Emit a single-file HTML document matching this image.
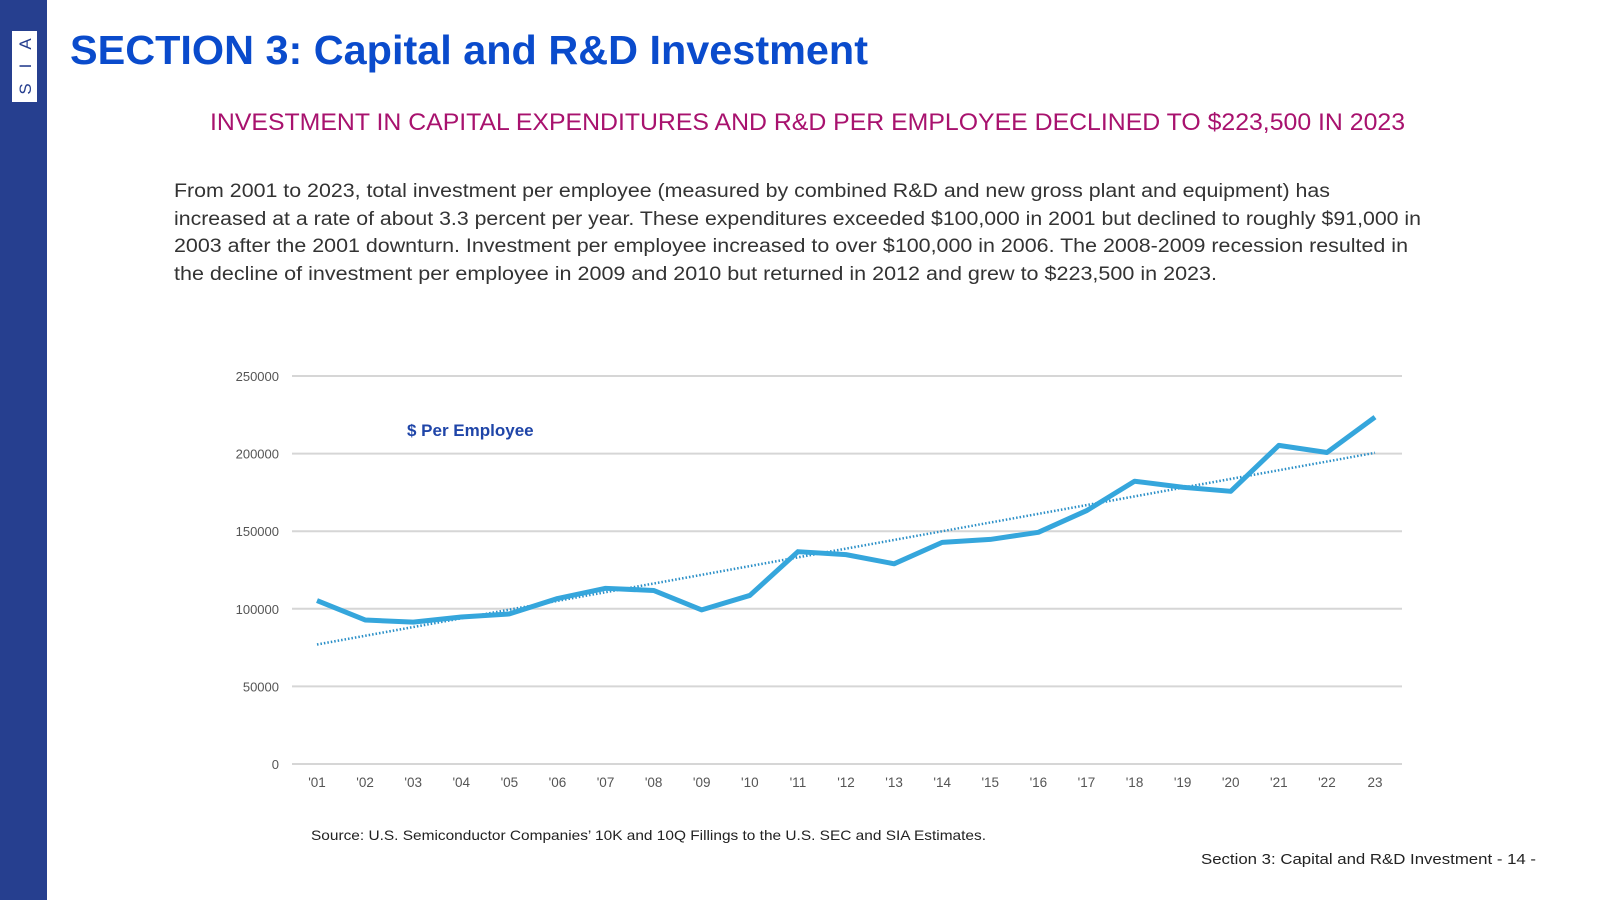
<!DOCTYPE html>
<html><head><meta charset="utf-8"><style>
body{margin:0;width:1600px;height:900px;overflow:hidden;background:#fff;font-family:"Liberation Sans",sans-serif}
</style></head><body>
<svg width="1600" height="900" viewBox="0 0 1600 900" xmlns="http://www.w3.org/2000/svg" id="root">
<rect x="0" y="0" width="47" height="900" fill="#263f8f"/>
<g>
<rect x="12" y="31" width="25" height="71" fill="#fff"/>
<text x="25" y="44" font-size="17" fill="#263f8f" text-anchor="middle" transform="rotate(-90 25 44)" dy="6">A</text>
<text x="25" y="66" font-size="17" fill="#263f8f" text-anchor="middle" transform="rotate(-90 25 66)" dy="6">I</text>
<text x="25" y="89" font-size="17" fill="#263f8f" text-anchor="middle" transform="rotate(-90 25 89)" dy="6">S</text>
</g>
<text x="70" y="64" font-size="41" font-weight="bold" fill="#0a4bcc" textLength="798" lengthAdjust="spacingAndGlyphs">SECTION 3: Capital and R&amp;D Investment</text>
<text x="210" y="130" font-size="24" fill="#a8126e" textLength="1195" lengthAdjust="spacingAndGlyphs">INVESTMENT IN CAPITAL EXPENDITURES AND R&amp;D PER EMPLOYEE DECLINED TO $223,500 IN 2023</text>
<g font-size="19" fill="#333">
<text x="174" y="197" textLength="1156" lengthAdjust="spacingAndGlyphs">From 2001 to 2023, total investment per employee (measured by combined R&amp;D and new gross plant and equipment) has</text>
<text x="174" y="225" textLength="1247" lengthAdjust="spacingAndGlyphs">increased at a rate of about 3.3 percent per year. These expenditures exceeded $100,000 in 2001 but declined to roughly $91,000 in</text>
<text x="174" y="252" textLength="1234" lengthAdjust="spacingAndGlyphs">2003 after the 2001 downturn. Investment per employee increased to over $100,000 in 2006. The 2008-2009 recession resulted in</text>
<text x="174" y="280" textLength="1043" lengthAdjust="spacingAndGlyphs">the decline of investment per employee in 2009 and 2010 but returned in 2012 and grew to $223,500 in 2023.</text>
</g>
<g id="chart"></g>
<text x="311" y="840" font-size="14" fill="#222" textLength="675" lengthAdjust="spacingAndGlyphs">Source: U.S. Semiconductor Companies’ 10K and 10Q Fillings to the U.S. SEC and SIA Estimates.</text>
<text x="1201" y="864" font-size="15" fill="#222" textLength="335" lengthAdjust="spacingAndGlyphs">Section 3: Capital and R&amp;D Investment  - 14 -</text>
</svg>
<script>
const categories=["'01","'02","'03","'04","'05","'06","'07","'08","'09","'10","'11","'12","'13","'14","'15","'16","'17","'18","'19","'20","'21","'22","23"];
const perEmployee=[105300,92800,91400,94700,96700,106600,113200,111800,99300,108600,136800,134900,129000,142800,144700,149300,163200,182200,178300,175700,205300,200700,223500];
const trendStart=77000, trendEnd=200500;
const yTicks=[0,50000,100000,150000,200000,250000];
const NS="http://www.w3.org/2000/svg";
const g=document.getElementById('chart');
const X0=317,X1=1375,Y0=764,Y1=376,L=292,R=1402;
const x=i=>X0+(X1-X0)*i/(categories.length-1);
const y=v=>Y0-(Y0-Y1)*v/250000;
function mk(t,a){const e=document.createElementNS(NS,t);for(const k in a)e.setAttribute(k,a[k]);g.appendChild(e);return e;}
yTicks.forEach(v=>{
 const l=mk('line',{x1:L,x2:R,y1:y(v),y2:y(v),stroke:'#d6d6d6','stroke-width':2});
 
 
 const t=mk('text',{x:279,y:y(v)+5,'font-size':13,fill:'#555','text-anchor':'end'});
 t.textContent=v;
 
 
});
categories.forEach((c,i)=>{
 const t=mk('text',{x:x(i),y:787,'font-size':13.5,fill:'#555','text-anchor':'middle'});
 t.textContent=c;
 
 
});
const tr=mk('line',{x1:x(0),y1:y(trendStart),x2:x(categories.length-1),y2:y(trendEnd),stroke:'#2a8fc7','stroke-width':2.5,'stroke-dasharray':'1.5 2'});


const p=mk('polyline',{points:perEmployee.map((v,i)=>x(i)+','+y(v)).join(' '),fill:'none',stroke:'#35a6dc','stroke-width':5,'stroke-linejoin':'round'});


const lg=mk('text',{x:407,y:436,'font-size':17,'font-weight':'bold',fill:'#1f45a8'});
lg.textContent='$ Per Employee';


</script>
</body></html>
